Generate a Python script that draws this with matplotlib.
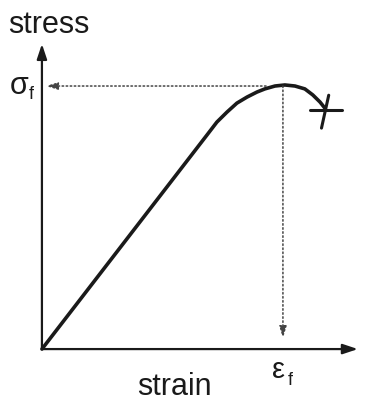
import matplotlib
matplotlib.use("Agg")
import matplotlib.pyplot as plt

# stress-strain curve (strain / eps_f, stress / sigma_f)
strain = [0.0, 0.685, 0.726, 0.768, 0.809, 0.851, 0.892, 0.925, 0.967,
          1.008, 1.05, 1.091, 1.124, 1.154, 1.174]
stress = [0.0, 0.814, 0.863, 0.901, 0.935, 0.958, 0.977, 0.989, 1.0,
          1.004, 1.0, 0.989, 0.966, 0.939, 0.916]

# fracture mark (cross) at end of curve
cross_h_x = [1.112, 1.245]
cross_h_y = [0.909, 0.909]
cross_v_x = [1.190, 1.160]
cross_v_y = [0.965, 0.840]

eps_f = 1.0
sig_f = 1.0
x_axis_end = 1.311
y_axis_end = 1.16

plt.rcParams['font.family'] = ['Liberation Sans', 'DejaVu Sans']

fig = plt.figure(figsize=(3.68, 4.03), dpi=100)
ax = fig.add_axes([0, 0, 1, 1])
ax.set_xlim(-0.174, 1.353)
ax.set_ylim(-0.205, 1.327)
ax.axis('off')

ink = '#1a1a1a'

# axes with arrows
ax.annotate('', xy=(x_axis_end, 0), xytext=(0, 0),
            arrowprops=dict(arrowstyle='-|>,head_length=0.9,head_width=0.3',
                            color=ink, lw=1.6, shrinkA=0, shrinkB=0))
ax.annotate('', xy=(0, y_axis_end), xytext=(0, 0),
            arrowprops=dict(arrowstyle='-|>,head_length=0.9,head_width=0.3',
                            color=ink, lw=1.6, shrinkA=0, shrinkB=0))

# curve
ax.plot(strain, stress, color=ink, lw=2.6, solid_capstyle='round', solid_joinstyle='round')
ax.plot(cross_h_x, cross_h_y, color=ink, lw=2.2, solid_capstyle='round')
ax.plot(cross_v_x, cross_v_y, color=ink, lw=2.2, solid_capstyle='round')

# dotted guide lines
ax.annotate('', xy=(0.017, sig_f), xytext=(0.93, sig_f),
            arrowprops=dict(arrowstyle='-|>,head_length=0.7,head_width=0.22',
                            color='#444444', lw=1.1, ls=':', shrinkA=0, shrinkB=0))
ax.annotate('', xy=(eps_f, 0.042), xytext=(eps_f, sig_f),
            arrowprops=dict(arrowstyle='-|>,head_length=0.7,head_width=0.22',
                            color='#444444', lw=1.1, ls=':', shrinkA=0, shrinkB=0))

# labels
ax.text(-0.141, 1.20, 'stress', fontsize=22, color=ink, ha='left', va='baseline')
ax.text(0.55, -0.175, 'strain', fontsize=22, color=ink, ha='center', va='baseline')
ax.text(-0.132, 0.97, 'σ', fontsize=22, color=ink, ha='left', va='baseline')
ax.text(-0.056, 0.95, 'f', fontsize=13, color=ink, ha='left', va='baseline')
ax.text(0.98, -0.11, 'ε', fontsize=21, color=ink, ha='center', va='baseline')
ax.text(1.03, -0.135, 'f', fontsize=13, color=ink, ha='center', va='baseline')

fig.savefig('out.png', dpi=100)
